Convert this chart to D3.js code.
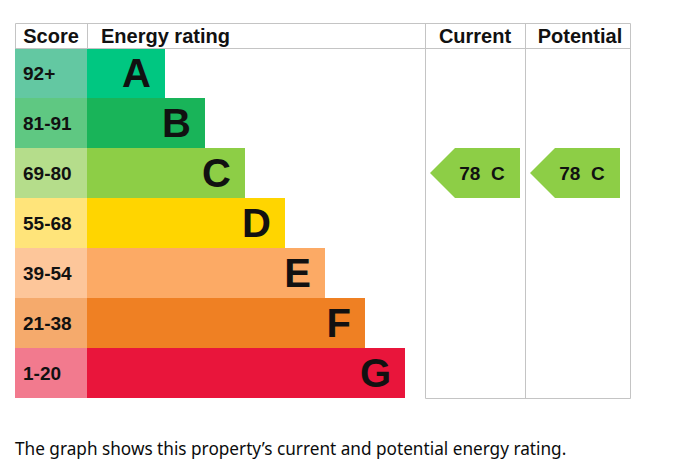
<!DOCTYPE html>
<html>
<head>
<meta charset="utf-8">
<script src="https://cdn.jsdelivr.net/npm/d3@7"></script>
<style>
  body { margin: 0; background: #fff; }
  svg { display: block; }
  .lib { font-family: "Liberation Sans", Arial, Helvetica, sans-serif; font-weight: bold; }
</style>
</head>
<body>
<svg></svg>
<script>
const width = 678, height = 475;

const bands = ["A", "B", "C", "D", "E", "F", "G"];
const scoreRanges = ["92+", "81-91", "69-80", "55-68", "39-54", "21-38", "1-20"];
const minScores = [92, 81, 69, 55, 39, 21, 1];
const barColors = ["#00c781", "#19b459", "#8dce46", "#ffd500", "#fcaa65", "#ef8023", "#e9153b"];
const tintColors = ["#63c8a2", "#5fc882", "#b5dd8b", "#ffe47a", "#fdc69a", "#f5aa6c", "#f27a8e"];
const currentScore = 78;
const potentialScore = 78;
const columns = ["Current", "Potential"];
const caption = "The graph shows this property\u2019s current and potential energy rating.";

const svg = d3.select("svg")
  .attr("width", width)
  .attr("height", height);

const tblLeft = 15, tblRight = 630, tblTop = 23, headH = 25, tblBottom = 398;
const scoreW = 72;
const barX = tblLeft + scoreW;

// rows
const y = d3.scaleBand()
  .domain(bands)
  .range([tblTop + headH, tblBottom]);

// bar length grows by rank
const barLen = d3.scaleLinear()
  .domain([0, bands.length - 1])
  .range([78, 318]);

const grid = "#c4c4c4";

// score cells
svg.selectAll(".score")
  .data(bands)
  .enter().append("rect")
  .attr("x", tblLeft)
  .attr("y", d => y(d))
  .attr("width", scoreW)
  .attr("height", y.bandwidth())
  .attr("fill", (d, i) => tintColors[i]);

svg.selectAll(".score-text")
  .data(scoreRanges)
  .enter().append("text")
  .attr("class", "lib")
  .attr("x", tblLeft + 8)
  .attr("y", (d, i) => y(bands[i]) + y.bandwidth() / 2)
  .attr("dy", ".35em")
  .style("font-size", "19px")
  .attr("fill", "#111")
  .text(d => d);

// rating bars
svg.selectAll(".bar")
  .data(bands)
  .enter().append("rect")
  .attr("x", barX)
  .attr("y", d => y(d))
  .attr("width", (d, i) => barLen(i))
  .attr("height", y.bandwidth())
  .attr("fill", (d, i) => barColors[i]);

svg.selectAll(".letter")
  .data(bands)
  .enter().append("text")
  .attr("class", "lib")
  .attr("x", (d, i) => barX + barLen(i) - 14)
  .attr("y", d => y(d) + y.bandwidth() / 2)
  .attr("dy", ".36em")
  .attr("text-anchor", "end")
  .style("font-size", "40px")
  .attr("fill", "#111")
  .text(d => d);

// grid lines
const lines = [
  [tblLeft, tblTop, tblRight, tblTop],
  [tblLeft, tblTop + headH, tblRight, tblTop + headH],
  [tblLeft, tblTop, tblLeft, tblTop + headH],
  [barX, tblTop, barX, tblTop + headH],
  [425, tblTop, 425, tblBottom],
  [525, tblTop, 525, tblBottom],
  [tblRight, tblTop, tblRight, tblBottom],
  [425, tblBottom, tblRight, tblBottom]
];
svg.selectAll(".grid")
  .data(lines)
  .enter().append("line")
  .attr("x1", d => d[0] + 0.5)
  .attr("y1", d => d[1] + 0.5)
  .attr("x2", d => d[2] + 0.5)
  .attr("y2", d => d[3] + 0.5)
  .attr("stroke", grid)
  .attr("stroke-width", 1);

// header
const headY = tblTop + headH / 2;
const headers = [
  { t: "Score", x: tblLeft + scoreW / 2, a: "middle" },
  { t: "Energy rating", x: barX + 14, a: "start" },
  { t: columns[0], x: 475, a: "middle" },
  { t: columns[1], x: 580, a: "middle" }
];
svg.selectAll(".head")
  .data(headers)
  .enter().append("text")
  .attr("class", "lib")
  .attr("x", d => d.x)
  .attr("y", headY)
  .attr("dy", ".36em")
  .attr("text-anchor", d => d.a)
  .style("font-size", "20px")
  .attr("fill", "#111")
  .text(d => d.t);

// arrows
function bandFor(score) {
  return minScores.findIndex(m => score >= m);
}
const arrows = [
  { score: currentScore, x0: 430, x1: 520 },
  { score: potentialScore, x0: 530, x1: 620 }
];
const ag = svg.selectAll(".arrow")
  .data(arrows)
  .enter().append("g");

ag.append("path")
  .attr("d", d => {
    const i = bandFor(d.score);
    const y0 = y(bands[i]), h = y.bandwidth();
    return "M" + d.x0 + "," + (y0 + h / 2) +
      "L" + (d.x0 + 25) + "," + y0 +
      "L" + d.x1 + "," + y0 +
      "L" + d.x1 + "," + (y0 + h) +
      "L" + (d.x0 + 25) + "," + (y0 + h) + "Z";
  })
  .attr("fill", d => barColors[bandFor(d.score)]);

ag.append("text")
  .attr("class", "lib")
  .attr("x", d => (d.x0 + d.x1) / 2 + 7)
  .attr("y", d => y(bands[bandFor(d.score)]) + y.bandwidth() / 2)
  .attr("dy", ".36em")
  .attr("text-anchor", "middle")
  .style("font-size", "19px")
  .attr("fill", "#111")
  .text(d => d.score + "\u00a0\u00a0" + bands[bandFor(d.score)]);

// caption
svg.append("text")
  .attr("x", tblLeft)
  .attr("y", 455)
  .style("font-family", "'Noto Sans', sans-serif")
  .style("font-size", "17.2px")
  .attr("fill", "#0b0c0c")
  .text(caption);
</script>
</body>
</html>
